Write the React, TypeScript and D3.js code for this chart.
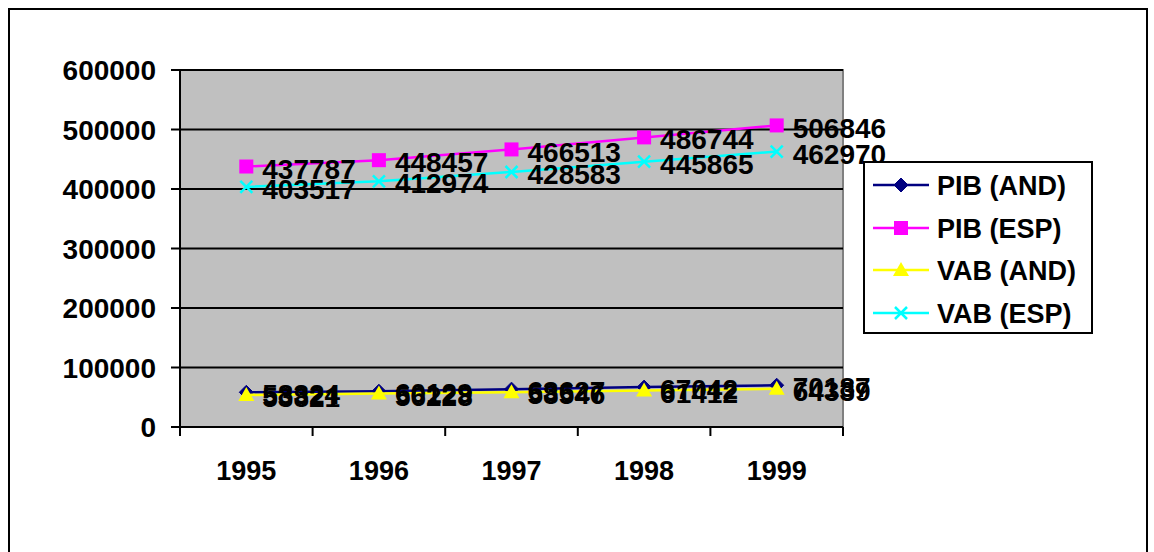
import React from "react";
import * as d3 from "d3";

const years = ["1995", "1996", "1997", "1998", "1999"];
const pibAnd = [58324, 60129, 63627, 67042, 70187];
const pibEsp = [437787, 448457, 466513, 486744, 506846];
const vabAnd = [53821, 56228, 58546, 61412, 64339];
const vabEsp = [403517, 412974, 428583, 445865, 462970];
const yTicks = [0, 100000, 200000, 300000, 400000, 500000, 600000];

const series = [
  { name: "PIB (AND)", values: pibAnd, color: "#000080", marker: "diamond" },
  { name: "PIB (ESP)", values: pibEsp, color: "#FF00FF", marker: "square" },
  { name: "VAB (AND)", values: vabAnd, color: "#FFFF00", marker: "triangle" },
  { name: "VAB (ESP)", values: vabEsp, color: "#00FFFF", marker: "x" },
];

const W = 1154, H = 552;
const left = 180, right = 843, top = 70, bottom = 427;
const FONT = "'Liberation Sans', Arial, sans-serif";

function Marker({ type, x, y, color }: { type: string; x: number; y: number; color: string }) {
  if (type === "diamond") {
    const s = 7;
    return <path d={`M${x},${y - s}L${x + s},${y}L${x},${y + s}L${x - s},${y}Z`} fill={color} stroke={color} />;
  }
  if (type === "square") {
    return <rect x={x - 7} y={y - 7} width={14} height={14} fill={color} />;
  }
  if (type === "triangle") {
    return <path d={`M${x},${y - 8}L${x + 8},${y + 6}L${x - 8},${y + 6}Z`} fill={color} />;
  }
  const s = 6;
  return (
    <path d={`M${x - s},${y - s}L${x + s},${y + s}M${x - s},${y + s}L${x + s},${y - s}`} stroke={color} strokeWidth={2.5} />
  );
}

export default function App() {
  const x = d3.scaleBand<string>().domain(years).range([left, right]);
  const y = d3.scaleLinear().domain([0, 600000]).range([bottom, top]);
  const cx = (d: string) => (x(d) as number) + x.bandwidth() / 2;
  const line = (vals: number[]) =>
    d3.line<number>().x((_, i) => cx(years[i])).y((v) => y(v))(vals) as string;
  const boundaries = years.map((d) => x(d) as number).concat([right]);

  const legendY = [185, 228, 270, 313];

  return (
    <svg width={W} height={H} style={{ position: "absolute", left: 0, top: 0 }} fontFamily={FONT}>
      <rect x={0} y={0} width={W} height={H} fill="#fff" />
      <rect x={9} y={9} width={1138} height={560} fill="none" stroke="#000" strokeWidth={2} />
      <rect x={left} y={top} width={right - left} height={bottom - top} fill="#C0C0C0" stroke="#808080" strokeWidth={2} />
      {yTicks.filter((t) => t > 0).map((t) => (
        <line key={t} x1={left} x2={right} y1={y(t)} y2={y(t)} stroke="#000" strokeWidth={2} />
      ))}
      <line x1={left} x2={left} y1={top} y2={bottom} stroke="#000" strokeWidth={2} />
      <line x1={left} x2={right} y1={bottom} y2={bottom} stroke="#000" strokeWidth={2} />
      {yTicks.map((t) => (
        <g key={t}>
          <line x1={left - 9} x2={left} y1={y(t)} y2={y(t)} stroke="#000" strokeWidth={2} />
          <text x={156} y={y(t)} dy="0.36em" textAnchor="end" fontSize={28} fontWeight="bold">{t}</text>
        </g>
      ))}
      {boundaries.map((b, i) => (
        <line key={i} x1={b} x2={b} y1={bottom} y2={bottom + 9} stroke="#000" strokeWidth={2} />
      ))}
      {years.map((d) => (
        <text key={d} x={cx(d)} y={470} dy="0.36em" textAnchor="middle" fontSize={27} fontWeight="bold">{d}</text>
      ))}
      {series.map((s) => (
        <g key={s.name}>
          <path d={line(s.values)} fill="none" stroke={s.color} strokeWidth={2.5} />
          {s.values.map((v, i) => (
            <Marker key={i} type={s.marker} x={cx(years[i])} y={y(v)} color={s.color} />
          ))}
        </g>
      ))}
      {series.map((s) => (
        <g key={s.name + "l"}>
          {s.values.map((v, i) => (
            <text key={i} x={cx(years[i]) + 16} y={y(v) + 2} dy="0.36em" fontSize={28} fontWeight="bold">{v}</text>
          ))}
        </g>
      ))}
      <rect x={864} y={162} width={228} height={171} fill="#fff" stroke="#000" strokeWidth={2} />
      {series.map((s, i) => (
        <g key={s.name + "g"}>
          <line x1={873} x2={929} y1={legendY[i]} y2={legendY[i]} stroke={s.color} strokeWidth={2.5} />
          <Marker type={s.marker} x={901} y={legendY[i]} color={s.color} />
          <text x={937} y={legendY[i]} dy="0.36em" fontSize={27} fontWeight="bold">{s.name}</text>
        </g>
      ))}
    </svg>
  );
}
